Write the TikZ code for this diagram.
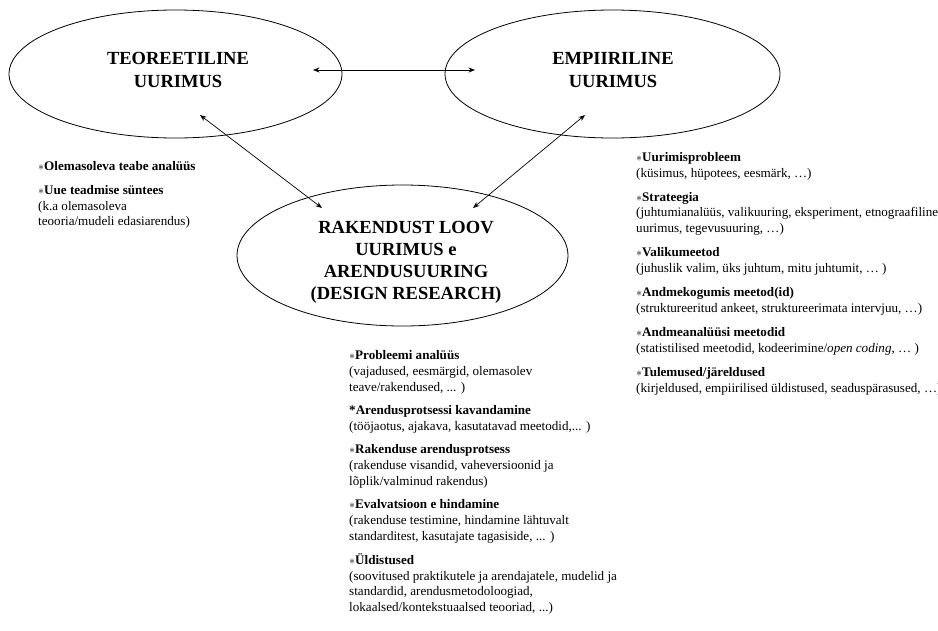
\documentclass[tikz,border=0pt]{standalone}
\usepackage{fontspec}
\setmainfont{Liberation Serif}
\usetikzlibrary{arrows.meta,shapes.geometric}
\begin{document}
\begin{tikzpicture}[x=1pt,y=-1pt,
  oval/.style={draw,ellipse,line width=0.8pt,inner sep=0pt},
  titletext/.style={font=\fontsize{18.5}{23}\selectfont\bfseries,align=center,inner sep=0pt},
  listtext/.style={font=\fontsize{13.1}{15.9}\selectfont,align=left,inner sep=0pt,anchor=north west},
  link/.style={line width=0.7pt,{Stealth[length=6.5pt,width=5pt]}-{Stealth[length=6.5pt,width=5pt]}}]
\useasboundingbox (0,0) rectangle (938,630);
% ellipses
\node[oval,minimum width=333,minimum height=128] (teo) at (175.5,74) {};
\node[oval,minimum width=335,minimum height=128] (emp) at (612.5,74) {};
\node[oval,minimum width=331,minimum height=141] (rak) at (402.5,255.5) {};
% titles
\node[titletext] (teoT) at (178,70) {TEOREETILINE\\UURIMUS};
\node[titletext] (empT) at (613,70) {EMPIIRILINE\\UURIMUS};
\node[titletext,font=\fontsize{18.5}{22}\selectfont\bfseries] (rakT) at (406,262) {RAKENDUST LOOV\\UURIMUS e\\ARENDUSUURING\\(DESIGN RESEARCH)};
% arrow end points
\coordinate (h1) at (313,70);
\coordinate (h2) at (475,70);
\coordinate (l1) at (200,115);
\coordinate (l2) at (322,208);
\coordinate (r1) at (585,115);
\coordinate (r2) at (473,208);
\draw[link] (h1) -- (h2);
\draw[link] (l1) -- (l2);
\draw[link] (r1) -- (r2);
% left list
\node[listtext] (leftlist) at (38,161) {$\ast$\textbf{Olemasoleva teabe analüüs}\\[8pt]
$\ast$\textbf{Uue teadmise süntees}\\
(k.a olemasoleva\\
teooria/mudeli edasiarendus)};
% right list
\node[listtext] (rightlist) at (636,152) {$\ast$\textbf{Uurimisprobleem}\\
(küsimus, hüpotees, eesmärk, …)\\[8pt]
$\ast$\textbf{Strateegia}\\
(juhtumianalüüs, valikuuring, eksperiment, etnograafiline\\
uurimus, tegevusuuring, …)\\[8pt]
$\ast$\textbf{Valikumeetod}\\
(juhuslik valim, üks juhtum, mitu juhtumit, … )\\[8pt]
$\ast$\textbf{Andmekogumis meetod(id)}\\
(struktureeritud ankeet, struktureerimata intervjuu, …)\\[8pt]
$\ast$\textbf{Andmeanalüüsi meetodid}\\
(statistilised meetodid, kodeerimine/\textit{open coding}, … )\\[8pt]
$\ast$\textbf{Tulemused/järeldused}\\
(kirjeldused, empiirilised üldistused, seaduspärasused, …)};
% bottom list
\node[listtext] (bottomlist) at (349,350) {$\ast$\textbf{Probleemi analüüs}\\
(vajadused, eesmärgid, olemasolev\\
teave/rakendused, ... )\\[7.5pt]
\textbf{*Arendusprotsessi kavandamine}\\
(tööjaotus, ajakava, kasutatavad meetodid,... )\\[7.5pt]
$\ast$\textbf{Rakenduse arendusprotsess}\\
(rakenduse visandid, vaheversioonid ja\\
lõplik/valminud rakendus)\\[7.5pt]
$\ast$\textbf{Evalvatsioon e hindamine}\\
(rakenduse testimine, hindamine lähtuvalt\\
standarditest, kasutajate tagasiside, ... )\\[7.5pt]
$\ast$\textbf{Üldistused}\\
(soovitused praktikutele ja arendajatele, mudelid ja\\
standardid, arendusmetodoloogiad,\\
lokaalsed/kontekstuaalsed teooriad, ...)};
\end{tikzpicture}
\end{document}
